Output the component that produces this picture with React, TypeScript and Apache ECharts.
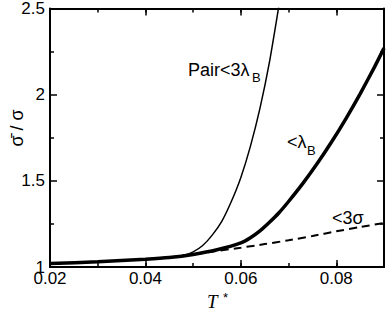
import React, { useEffect, useRef } from "react";
import * as echarts from "echarts";

const pairT = [0.02, 0.03, 0.04, 0.045, 0.048, 0.05, 0.052, 0.054, 0.056, 0.058, 0.06, 0.062, 0.064, 0.066, 0.068];
const pairY = [1.02, 1.03, 1.045, 1.055, 1.068, 1.088, 1.125, 1.185, 1.265, 1.38, 1.52, 1.70, 1.92, 2.19, 2.52];

const lamT = [0.02, 0.03, 0.04, 0.045, 0.05, 0.055, 0.06, 0.062, 0.064, 0.066, 0.068, 0.07, 0.073, 0.076, 0.079, 0.082, 0.085, 0.088, 0.09];
const lamY = [1.02, 1.03, 1.045, 1.055, 1.073, 1.1, 1.14, 1.17, 1.21, 1.26, 1.315, 1.38, 1.485, 1.6, 1.725, 1.86, 2.005, 2.16, 2.27];

const sigT = [0.045, 0.05, 0.055, 0.06, 0.065, 0.07, 0.075, 0.08, 0.085, 0.09];
const sigY = [1.055, 1.073, 1.093, 1.112, 1.133, 1.155, 1.18, 1.207, 1.232, 1.255];

const xTicks = [0.02, 0.04, 0.06, 0.08];
const yTicks = [1, 1.5, 2, 2.5];

const zip = (a: number[], b: number[]) => a.map((v, i) => [v, b[i]]);

const FONT = "Liberation Sans";

export default function App() {
  const ref = useRef<HTMLDivElement>(null);
  useEffect(() => {
    if (!ref.current) return;
    const chart = echarts.init(ref.current, undefined, { renderer: "svg" });
    const axisLine = { show: true, lineStyle: { color: "#000", width: 2 } };
    const majorTick = { show: true, inside: true, length: 7, lineStyle: { color: "#000", width: 1.5 } };
    const minorTickX = { show: true, inside: true, length: 4, lineStyle: { color: "#000", width: 1.5 } };
    const labelStyle = { color: "#000", fontSize: 17, fontFamily: FONT };
    const xBase = { type: "value" as const, min: 0.02, max: 0.09, splitLine: { show: false } };
    const yBase = { type: "value" as const, min: 1, max: 2.5, interval: 0.5, splitLine: { show: false } };
    const lineCommon = { type: "line" as const, xAxisIndex: 0, yAxisIndex: 0, smooth: 0.2, showSymbol: false };
    chart.setOption({
      animation: false,
      grid: { left: 50, right: 3, top: 6, bottom: 46 },
      xAxis: [
        {
          ...xBase, position: "bottom", interval: 0.02, axisLine, axisTick: majorTick,
          axisLabel: {
            ...labelStyle, lineHeight: 12, margin: 5, showMaxLabel: false,
            formatter: (v: number) => (xTicks.some((t) => Math.abs(t - v) < 1e-9) ? v.toFixed(2) : ""),
          },
        },
        { ...xBase, position: "bottom", interval: 0.01, axisLine: { show: false }, axisTick: minorTickX, axisLabel: { show: false } },
        { ...xBase, position: "top", interval: 0.02, axisLine, axisTick: majorTick, axisLabel: { show: false } },
        { ...xBase, position: "top", interval: 0.01, axisLine: { show: false }, axisTick: minorTickX, axisLabel: { show: false } },
      ],
      yAxis: [
        {
          ...yBase, position: "left", axisLine, axisTick: majorTick,
          minorTick: { show: true, splitNumber: 2, length: 4, lineStyle: { color: "#000", width: 1.5 } },
          axisLabel: {
            ...labelStyle, lineHeight: 10, margin: 5,
            formatter: (v: number) => (yTicks.some((t) => Math.abs(t - v) < 1e-9) ? String(v) : ""),
          },
        },
        {
          ...yBase, position: "right", axisLine, axisTick: majorTick,
          minorTick: { show: true, splitNumber: 2, length: 4, lineStyle: { color: "#000", width: 1.5 } },
          axisLabel: { show: false },
        },
      ],
      series: [
        { ...lineCommon, data: zip(sigT, sigY), lineStyle: { color: "#000", width: 2, type: [8, 5] } },
        { ...lineCommon, data: zip(pairT, pairY), lineStyle: { color: "#000", width: 1.5 } },
        { ...lineCommon, data: zip(lamT, lamY), lineStyle: { color: "#000", width: 3.5 } },
      ],
      graphic: [
        { type: "text", left: 188, top: 61, style: { text: "Pair<3λ", font: `18px "${FONT}"`, fill: "#000" } },
        { type: "text", left: 252, top: 71, style: { text: "B", font: `13px "${FONT}"`, fill: "#000" } },
        { type: "text", left: 287, top: 133, style: { text: "<λ", font: `18px "${FONT}"`, fill: "#000" } },
        { type: "text", left: 307, top: 144, style: { text: "B", font: `13px "${FONT}"`, fill: "#000" } },
        { type: "text", left: 332, top: 209, style: { text: "<3σ", font: `18px "${FONT}"`, fill: "#000" } },
        { type: "text", left: 207, top: 292, style: { text: "T", font: `italic 19px "Liberation Serif"`, fill: "#000" } },
        { type: "text", left: 223, top: 291, style: { text: "*", font: `13px "${FONT}"`, fill: "#000" } },
        {
          type: "text", x: 17, y: 128, rotation: Math.PI / 2,
          style: { text: "σ̄ / σ", font: `18px "${FONT}"`, fill: "#000", align: "center", verticalAlign: "middle" },
        },
      ],
    });
    return () => chart.dispose();
  }, []);
  return <div ref={ref} style={{ width: 387, height: 313, position: "absolute", left: 0, top: 0 }} />;
}
